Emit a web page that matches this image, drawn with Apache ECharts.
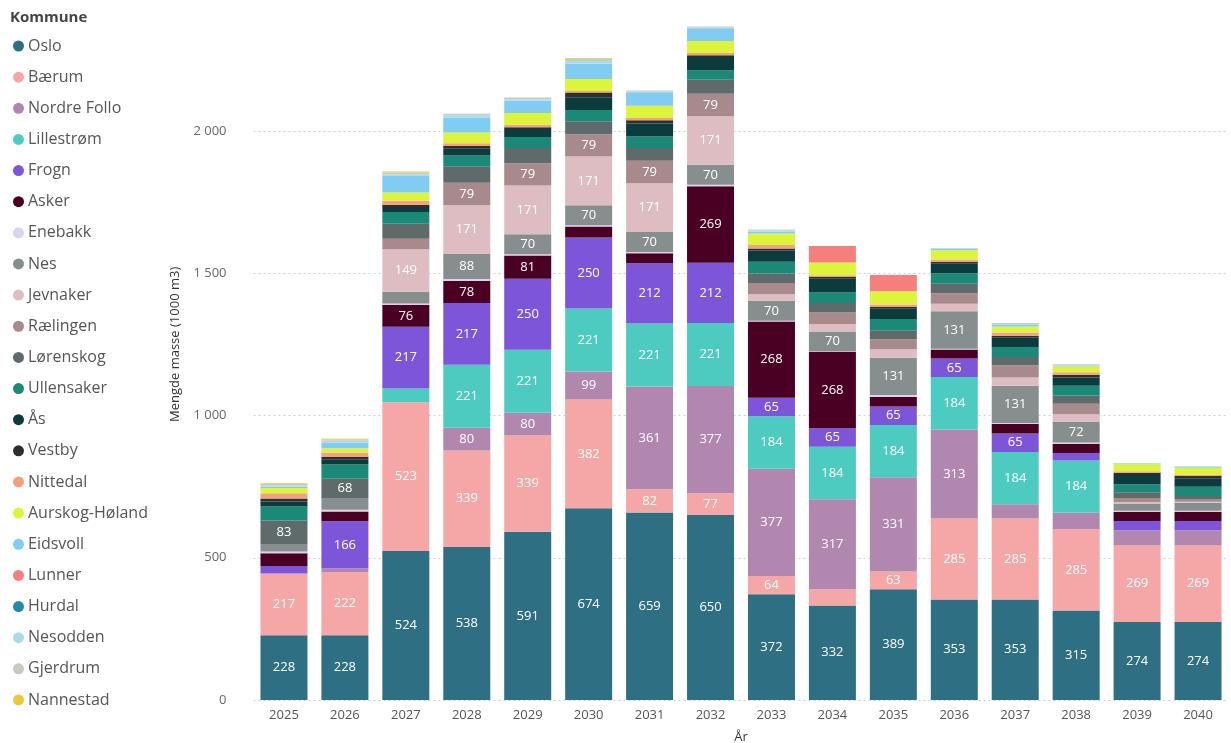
<!DOCTYPE html>
<html>
<head>
<meta charset="utf-8">
<script src="https://cdn.jsdelivr.net/npm/echarts@6/dist/echarts.min.js"></script>
<style>
  html, body { margin: 0; padding: 0; background: #fff; }
  #chart { width: 1231px; height: 743px; }
</style>
</head>
<body>
<div id="chart"></div>
<script>
// Years on the category axis
const years = ['2025','2026','2027','2028','2029','2030','2031','2032','2033','2034','2035','2036','2037','2038','2039','2040'];

// Volumes per municipality (1000 m3), one value per year
const oslo        = [228,228,524,538,591,674,659,650,372,332,389,353,353,315,274,274];
const baerum      = [217,222,523,339,339,382,82,77,64,57,63,285,285,285,269,269];
const nordreFollo = [0,12,0,80,80,99,361,377,377,317,331,313,50,58,54,54];
const lillestrom  = [0,0,48,221,221,221,221,221,184,184,184,184,184,184,0,0];
const frogn       = [26,166,217,217,250,250,212,212,65,65,65,65,65,26,32,32];
const asker       = [45,35,76,78,81,38,35,269,268,268,33,32,33,33,33,33];
const enebakk     = [6,6,6,7,5,5,5,5,3,2,7,3,4,4,3,3];
const nes         = [26,41,41,88,70,70,70,70,70,70,131,131,131,72,26,28];
const jevnaker    = [0,0,149,171,171,171,171,171,23,27,30,27,29,27,5,4];
const ralingen    = [0,0,37,79,79,79,79,79,40,40,35,37,43,37,14,8];
const lorenskog   = [83,68,53,58,53,45,45,49,33,33,32,35,29,29,20,12];
const ullensaker  = [49,50,41,38,39,40,41,33,41,37,39,35,35,35,28,33];
const aas         = [18,18,14,25,28,45,45,47,40,50,38,35,32,29,33,29];
const vestby      = [10,8,12,8,6,16,12,6,7,5,4,5,7,9,8,8];
const nittedal    = [19,16,14,10,9,6,8,8,12,6,9,8,12,9,5,6];
const aurskog     = [18,15,29,38,41,42,43,42,41,45,47,33,21,20,25,23];
const eidsvoll    = [5,20,58,52,43,53,47,45,6,0,0,4,6,3,2,3];
const lunner      = [0,0,0,0,0,0,0,0,0,58,57,0,0,0,0,0];
const hurdal      = [0,0,0,0,0,0,0,0,0,0,0,0,0,0,0,0];
const nesodden    = [4,6,6,8,6,10,3,3,4,0,0,2,3,2,1,2];
const gjerdrum    = [5,4,6,6,6,8,3,3,4,0,0,2,3,3,1,1];
const nannestad   = [3,3,4,0,0,3,0,0,0,0,0,0,0,0,0,0];

// Municipality names, stack order bottom to top
const kommuner = ['Oslo','Bærum','Nordre Follo','Lillestrøm','Frogn','Asker','Enebakk','Nes','Jevnaker','Rælingen','Lørenskog','Ullensaker','Ås','Vestby','Nittedal','Aurskog-Høland','Eidsvoll','Lunner','Hurdal','Nesodden','Gjerdrum','Nannestad'];
const verdier = [oslo, baerum, nordreFollo, lillestrom, frogn, asker, enebakk, nes, jevnaker, ralingen, lorenskog, ullensaker, aas, vestby, nittedal, aurskog, eidsvoll, lunner, hurdal, nesodden, gjerdrum, nannestad];
const farger = ['#2E6F84','#F4A7A6','#B187AF','#4ECBC0','#7D55D8','#4A0022','#DAD3EF','#868E8E','#DDBDC2','#A8898C','#5F6B6B','#1B8978','#0B3B3D','#2B2F2F','#F6A07F','#DCF53B','#80CCF2','#F57F7C','#2089AA','#A6DCEC','#C9C9C1','#EDC73D'];

// Y-axis tick values are drawn with a space as thousands separator
function tusen(v) {
  return String(v).replace(/\B(?=(\d{3})+(?!\d))/g, ' ');
}

const font = "'Segoe UI', 'Open Sans', 'Noto Sans', sans-serif";

const series = kommuner.map((navn, i) => ({
  name: navn,
  type: 'bar',
  stack: 'total',
  barWidth: 47,
  itemStyle: { color: farger[i] },
  label: {
    show: true,
    position: 'inside',
    color: '#fff',
    fontSize: 13,
    fontFamily: font,
    formatter: p => (p.value >= 60 ? String(p.value) : '')
  },
  emphasis: { disabled: true },
  data: verdier[i]
}));

const chart = echarts.init(document.getElementById('chart'), null, { renderer: 'canvas' });
chart.setOption({
  animation: false,
  backgroundColor: '#fff',
  color: farger,
  title: {
    text: 'Kommune',
    left: 10,
    top: 10,
    padding: 0,
    textStyle: { fontSize: 15, fontWeight: 'bold', color: '#444', fontFamily: font }
  },
  legend: {
    orient: 'vertical',
    left: 8,
    top: 31,
    icon: 'circle',
    itemWidth: 11,
    itemHeight: 11,
    itemGap: 11.14,
    textStyle: { fontSize: 16, color: '#555', fontFamily: font, lineHeight: 20, padding: [0, 0, 0, -1] },
    data: kommuner
  },
  grid: { left: 253.5, right: 2.5, top: -11.25, bottom: 43, containLabel: false, outerBoundsMode: 'none' },
  xAxis: {
    type: 'category',
    data: years,
    axisLine: { show: false },
    axisTick: { show: false },
    axisLabel: { color: '#555', fontSize: 13, margin: 9, fontFamily: font },
    name: 'År',
    nameLocation: 'middle',
    nameGap: 31,
    nameTextStyle: { color: '#333', fontSize: 13, fontFamily: font }
  },
  yAxis: {
    type: 'value',
    min: 0,
    max: 2500,
    interval: 500,
    axisLine: { show: false },
    axisTick: { show: false },
    axisLabel: { color: '#666', fontSize: 13, margin: 27, fontFamily: font, formatter: tusen },
    splitLine: { show: true, lineStyle: { type: [2, 3], color: '#cfcfcf', width: 1 } },
    name: 'Mengde masse (1000 m3)',
    nameLocation: 'middle',
    nameGap: 72,
    nameTextStyle: { color: '#333', fontSize: 13, fontFamily: font }
  },
  series: series
});
</script>
</body>
</html>
